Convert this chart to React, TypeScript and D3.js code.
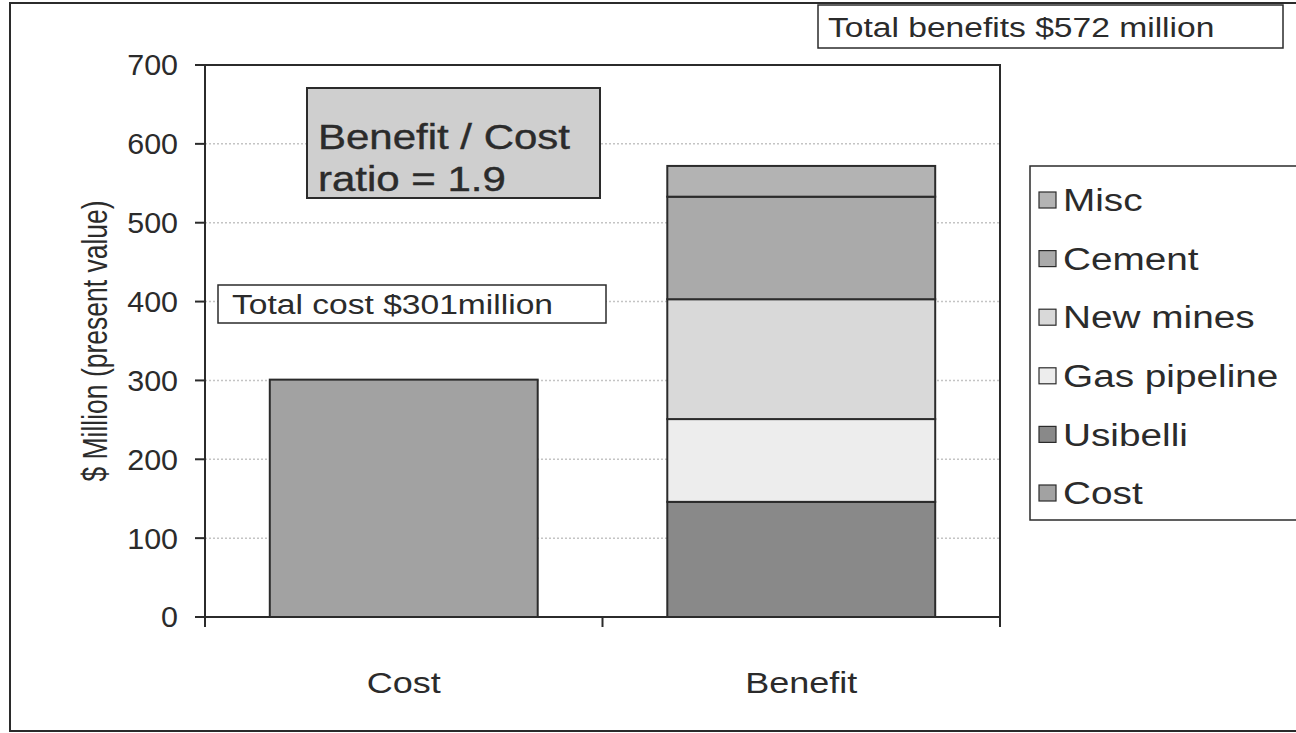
import * as d3 from 'd3';

const categories = ['Cost', 'Benefit'];
const costValues = [301];
// benefit stack, bottom to top
const benefitParts = ['Usibelli', 'Gas pipeline', 'New mines', 'Cement', 'Misc'];
const benefitValues = [146, 105, 152, 130, 39];
const legendItems = ['Misc', 'Cement', 'New mines', 'Gas pipeline', 'Usibelli', 'Cost'];
const yTicks = [0, 100, 200, 300, 400, 500, 600, 700];

const colors: Record<string, string> = {
  Cost: '#a2a2a2',
  Usibelli: '#898989',
  'Gas pipeline': '#ededed',
  'New mines': '#d9d9d9',
  Cement: '#aaaaaa',
  Misc: '#b3b3b3',
};

const W = 1296;
const H = 733;
const plot = { left: 205, right: 1000, top: 65, bottom: 617 };
const font = '"Liberation Sans", Arial, sans-serif';
const ink = '#2b2b2b';

type TxtProps = {
  x: number;
  y: number;
  size: number;
  sx?: number;
  anchor?: 'start' | 'middle' | 'end';
  dy?: string;
  weight?: number;
  children: string | number;
};

// the scanned original is a little wider than tall, so most text is stretched sideways
function Txt({ x, y, size, sx = 1.2, anchor = 'start', dy, weight = 0, children }: TxtProps) {
  return (
    <text transform={`translate(${x},${y}) scale(${sx},1)`} textAnchor={anchor} dy={dy}
      fontSize={size} fill={ink} stroke={weight ? ink : 'none'} strokeWidth={weight}>{children}</text>
  );
}

export default function App() {
  const x = d3.scaleBand<string>()
    .domain(categories)
    .range([plot.left, plot.right])
    .paddingInner(0.326)
    .paddingOuter(0.163);
  const y = d3.scaleLinear().domain([0, 700]).range([plot.bottom, plot.top]);

  let acc = 0;
  const stack = benefitParts.map((name, i) => {
    const y0 = acc;
    acc += benefitValues[i];
    return { name, y0, y1: acc };
  });

  const mid = (plot.left + plot.right) / 2;

  return (
    <svg width={W} height={H} style={{ position: 'absolute', left: 0, top: 0, background: '#fff' }}
      fontFamily={font}>
      <rect x={10} y={3} width={W} height={728} fill="#fff" stroke={ink} strokeWidth={2} />

      {/* gridlines */}
      {yTicks.filter((t) => t > 0 && t < 700).map((t) => (
        <line key={t} x1={plot.left} x2={plot.right} y1={y(t)} y2={y(t)}
          stroke="#c4c4c4" strokeWidth={1.5} strokeDasharray="2 2" />
      ))}

      {/* plot border */}
      <rect x={plot.left} y={plot.top} width={plot.right - plot.left} height={plot.bottom - plot.top}
        fill="none" stroke={ink} strokeWidth={2} />

      {/* y ticks */}
      {yTicks.map((t) => (
        <g key={t}>
          <line x1={plot.left - 10} x2={plot.left} y1={y(t)} y2={y(t)} stroke={ink} strokeWidth={2} />
          <Txt x={178} y={y(t)} dy="0.36em" anchor="end" size={29} sx={1.05}>{t}</Txt>
        </g>
      ))}

      {/* x ticks */}
      {[plot.left, mid, plot.right].map((v, i) => (
        <line key={i} x1={v} x2={v} y1={plot.bottom} y2={plot.bottom + 10} stroke={ink} strokeWidth={2} />
      ))}

      {/* cost bar */}
      <rect x={x('Cost')} y={y(costValues[0])} width={x.bandwidth()} height={y(0) - y(costValues[0])}
        fill={colors.Cost} stroke={ink} strokeWidth={2} />

      {/* benefit stack */}
      {stack.map((s) => (
        <rect key={s.name} x={x('Benefit')} y={y(s.y1)} width={x.bandwidth()} height={y(s.y0) - y(s.y1)}
          fill={colors[s.name]} stroke={ink} strokeWidth={2} />
      ))}

      {/* category labels */}
      {categories.map((c) => (
        <Txt key={c} x={(x(c) ?? 0) + x.bandwidth() / 2} y={693} anchor="middle" size={30}>{c}</Txt>
      ))}

      {/* y axis title */}
      <text transform={`translate(107, 341) scale(1.3,1) rotate(-90)`}
        textAnchor="middle" fontSize={26.5} fill={ink}>$ Million (present value)</text>

      {/* ratio box */}
      <rect x={307} y={88} width={293} height={110} fill="#cfcfcf" stroke={ink} strokeWidth={2} />
      <Txt x={318} y={149} size={35} weight={0.4}>Benefit / Cost</Txt>
      <Txt x={318} y={191} size={35} weight={0.4}>ratio = 1.9</Txt>

      {/* total cost box */}
      <rect x={218} y={285} width={388} height={38} fill="#fff" stroke={ink} strokeWidth={1.5} />
      <Txt x={232} y={314} size={28}>Total cost $301million</Txt>

      {/* total benefits box */}
      <rect x={818} y={5} width={465} height={43} fill="#fff" stroke={ink} strokeWidth={1.5} />
      <Txt x={828} y={37} size={28}>Total benefits $572 million</Txt>

      {/* legend */}
      <rect x={1030} y={166} width={300} height={354} fill="#fff" stroke={ink} strokeWidth={1.5} />
      {legendItems.map((name, i) => {
        const cy = 200 + i * 58.6;
        return (
          <g key={name}>
            <rect x={1039} y={cy - 8} width={17} height={16} fill={colors[name]} stroke={ink} strokeWidth={1.2} />
            <Txt x={1063} y={cy} dy="0.36em" size={31} sx={1.25}>{name}</Txt>
          </g>
        );
      })}
    </svg>
  );
}
